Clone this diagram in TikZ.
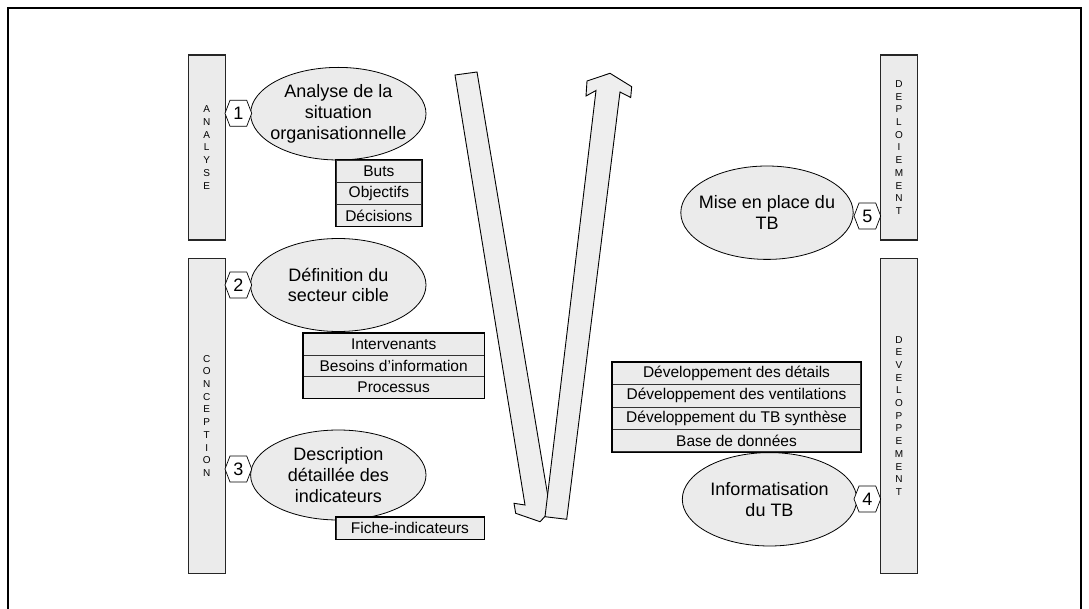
\documentclass[tikz,border=0pt]{standalone}
\usepackage{fontspec}
\setmainfont{Liberation Sans}
\usetikzlibrary{shapes.geometric}
\definecolor{boxgray}{HTML}{EBEBEB}
\definecolor{arrowgray}{HTML}{EEEEEE}
\newcommand{\hexmark}[4]{%
  \filldraw[hexline] ({#2-13.35},#3) -- ({#2-8.35},{#3-13}) -- ({#2+8.35},{#3-13}) -- ({#2+13.35},#3) -- ({#2+8.35},{#3+13}) -- ({#2-8.35},{#3+13}) -- cycle;
  \node[hexlabel] (#1) at (#2,#3) {#4};%
}
\begin{document}
\begin{tikzpicture}[x=1pt,y=-1pt,
  bar/.style={draw=black!85,line width=1.1pt,fill=boxgray,minimum width=36.7pt,inner sep=0pt,align=center,font=\fontsize{10}{12.7}\selectfont},
  stage/.style={ellipse,draw=black,line width=0.8pt,fill=boxgray,inner sep=0pt},
  stagetext/.style={inner sep=0pt,align=center,font=\fontsize{18}{20.7}\selectfont},
  cell/.style={draw=black!80,line width=0.7pt,fill=boxgray,inner sep=0pt,font=\fontsize{15.5}{18}\selectfont},
  tableframe/.style={draw=black,line width=1.1pt},
  hexline/.style={draw=black,line width=0.7pt,fill=white},
  hexlabel/.style={inner sep=0pt,font=\fontsize{18}{20}\selectfont},
  blockarrow/.style={draw=black,line width=0.9pt,fill=arrowgray,line join=miter},
  frame/.style={draw=black,line width=2pt}
]
\useasboundingbox (0,0) rectangle (1089,609);
\fill[white] (0,0) rectangle (1089,609);
\draw[frame] (7.5,8) rectangle (1081,640);

% phase bars
\node[bar,minimum height=185pt] (bAna) at (206.7,147.5) {A\\N\\A\\L\\Y\\S\\E};
\node[bar,minimum height=315pt] (bCon) at (206.7,415.8) {C\\O\\N\\C\\E\\P\\T\\I\\O\\N};
\node[bar,minimum height=185pt] (bDep) at (899,147.5) {D\\E\\P\\L\\O\\I\\E\\M\\E\\N\\T};
\node[bar,minimum height=315pt] (bDev) at (899,415.8) {D\\E\\V\\E\\L\\O\\P\\P\\E\\M\\E\\N\\T};

% block arrows
\filldraw[blockarrow] (455,75) -- (477,72) -- (549,503) -- (558,503) -- (540,521.7) -- (515.7,513.3) -- (514,503.3) -- (525,505) -- cycle;
\filldraw[blockarrow] (610,73.3) -- (631.7,86.7) -- (630.7,97.5) -- (620,92) -- (566.7,519.3) -- (545,516.7) -- (596,90.5) -- (586,96) -- (587,81) -- cycle;

% stages
\node[stage,minimum width=175.4pt,minimum height=92.6pt] (e1) at (338.3,113.7) {};
\node[stagetext] (e1t) at (e1) {Analyse de la\\situation\\organisationnelle};
\node[stage,minimum width=175.4pt,minimum height=93pt] (e2) at (338.3,285) {};
\node[stagetext] (e2t) at (e2) {Définition du\\secteur cible};
\node[stage,minimum width=175.4pt,minimum height=90pt] (e3) at (338.3,475) {};
\node[stagetext] (e3t) at (e3) {Description\\détaillée des\\indicateurs};
\node[stage,minimum width=172.4pt,minimum height=93.4pt] (e5) at (767,212.7) {};
\node[stagetext] (e5t) at (e5) {Mise en place du\\TB};
\node[stage,minimum width=174.4pt,minimum height=93.4pt] (e4) at (769.5,499.3) {};
\node[stagetext] (e4t) at (e4) {Informatisation\\du TB};

% step numbers
\hexmark{n1}{238.35}{113.3}{1}
\hexmark{n2}{238.35}{285}{2}
\hexmark{n3}{238.35}{469}{3}
\hexmark{n5}{867.35}{216}{5}
\hexmark{n4}{867.35}{499}{4}

% tables
\node[cell,minimum width=85.7pt,minimum height=22.2pt] (t1a) at (378.85,171.1) {Buts};
\node[cell,minimum width=85.7pt,minimum height=22.2pt] (t1b) at (378.85,193.3) {Objectifs};
\node[cell,minimum width=85.7pt,minimum height=22.2pt] (t1c) at (378.85,215.5) {Décisions};
\draw[tableframe] (t1a.north west) rectangle (t1c.south east);

\node[cell,minimum width=180.7pt,minimum height=21.7pt] (t2a) at (393.65,344.2) {Intervenants};
\node[cell,minimum width=180.7pt,minimum height=21.7pt] (t2b) at (393.65,365.9) {Besoins d'information};
\node[cell,minimum width=180.7pt,minimum height=21.7pt] (t2c) at (393.65,387.6) {Processus};
\draw[tableframe] (t2a.north west) rectangle (t2c.south east);

\node[cell,minimum width=148pt,minimum height=22pt] (t3a) at (410,528.3) {Fiche-indicateurs};
\draw[tableframe] (t3a.north west) rectangle (t3a.south east);

\node[cell,minimum width=248.4pt,minimum height=22.35pt] (t4a) at (736.5,373.5) {Développement des détails};
\node[cell,minimum width=248.4pt,minimum height=22.35pt] (t4b) at (736.5,395.85) {Développement des ventilations};
\node[cell,minimum width=248.4pt,minimum height=22.35pt] (t4c) at (736.5,418.2) {Développement du TB synthèse};
\node[cell,minimum width=248.4pt,minimum height=22.35pt] (t4d) at (736.5,440.55) {Base de données};
\draw[tableframe] (t4a.north west) rectangle (t4d.south east);
\end{tikzpicture}
\end{document}
